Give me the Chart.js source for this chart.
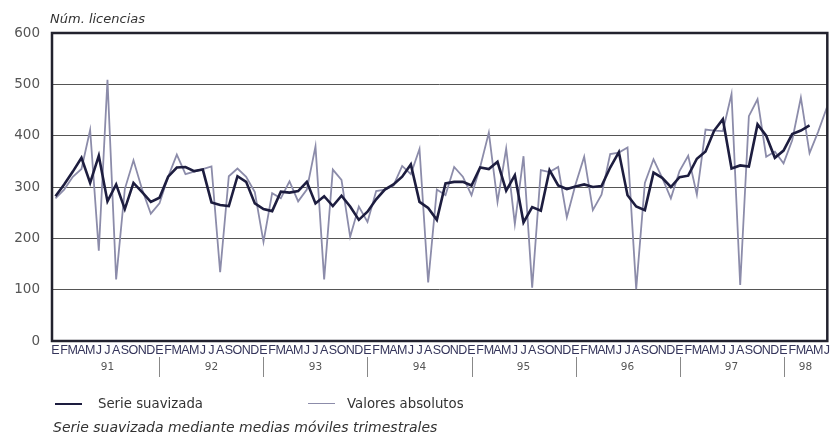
<!DOCTYPE html>
<html lang="es">
<head>
<meta charset="utf-8">
<title>Núm. licencias</title>
<script src="https://cdn.jsdelivr.net/npm/chart.js@4.4.1/dist/chart.umd.min.js"></script>
<style>
  body { margin: 0; background: #fff; }
  #wrap { position: relative; width: 832px; height: 443px; font-family: "DejaVu Sans", sans-serif; color: #2b2b3a; }
  #chart { position: absolute; left: 0; top: 0; }
  #yTitle { position: absolute; left: 50px; top: 11px; font-size: 13px; font-style: italic; color: #333; }
  #legend .line { position: absolute; width: 27px; }
  #legend .txt { position: absolute; font-size: 13.3px; color: #333; line-height: 16px; }
  #note { position: absolute; left: 53px; top: 419px; font-size: 14px; font-style: italic; color: #333; }
</style>
</head>
<body>
<div id="wrap">
  <canvas id="chart" width="832" height="443"></canvas>
  <div id="yTitle">Núm. licencias</div>
  <div id="legend"></div>
  <div id="note">Serie suavizada mediante medias móviles trimestrales</div>
</div>
<script>
const monthLetters = ['E', 'F', 'M', 'A', 'M', 'J', 'J', 'A', 'S', 'O', 'N', 'D'];
const years = ['91', '92', '93', '94', '95', '96', '97', '98'];
const yTicks = [0, 100, 200, 300, 400, 500, 600];

// enero 1991 - junio 1998, un valor por mes
const valoresAbsolutos = [
  278, 295, 320, 335, 411, 176, 509, 120, 296, 352, 295, 248,
  268, 320, 363, 325, 330, 335, 340, 134, 321, 336, 320, 290,
  193, 288, 278, 311, 272, 295, 379, 120, 334, 314, 203, 262,
  232, 292, 295, 303, 341, 325, 374, 114, 295, 284, 339, 320,
  284, 339, 406, 271, 375, 228, 360, 104, 333, 329, 339, 241,
  305, 359, 255, 285, 364, 367, 377, 101, 308, 354, 318, 278,
  331, 361, 285, 412, 410, 409, 481, 109, 438, 471, 359, 369,
  346, 391, 474, 366, 408, 455
];
const serieSuavizada = [
  282, 305, 330, 357, 308, 361, 272, 305, 257, 308, 290, 271,
  279, 320, 338, 339, 331, 334, 270, 265, 263, 321, 310, 268,
  257, 253, 291, 289, 292, 310, 268, 282, 263, 283, 262, 236,
  252, 276, 295, 305, 320, 344, 271, 259, 236, 307, 310, 310,
  303, 338, 335, 349, 293, 323, 231, 261, 254, 333, 303, 296,
  301, 305, 300, 302, 338, 368, 284, 262, 255, 328, 318, 300,
  319, 322, 355, 369, 410, 432, 336, 342, 340, 422, 400, 357,
  371, 403, 410, 420, null, null
];

const toPoints = arr => arr.map((v, i) => ({ x: i, y: v }));
const monthIdx = valoresAbsolutos.map((v, i) => i);

const yearAxis = {
  id: 'yearAxis',
  afterDraw(chart) {
    const { ctx, chartArea } = chart;
    const x = chart.scales.x;
    ctx.save();
    ctx.font = '10.5px "DejaVu Sans"';
    ctx.fillStyle = '#555';
    ctx.textAlign = 'center';
    ctx.textBaseline = 'middle';
    ctx.strokeStyle = '#888';
    ctx.lineWidth = 1;
    years.forEach((yr, k) => {
      const a = x.getPixelForValue(k * 12);
      const b = Math.min(x.getPixelForValue(k * 12 + 12), chartArea.right);
      if (k > 0) {
        ctx.beginPath();
        ctx.moveTo(Math.round(a) + 0.5, chartArea.bottom + 16);
        ctx.lineTo(Math.round(a) + 0.5, chartArea.bottom + 36);
        ctx.stroke();
      }
      ctx.fillText(yr, (a + b) / 2, chartArea.bottom + 26);
    });
    ctx.strokeStyle = '#22222e';
    ctx.lineWidth = 2.5;
    ctx.strokeRect(chartArea.left, chartArea.top, chartArea.width, chartArea.height);
    ctx.restore();
  }
};

const chart = new Chart(document.getElementById('chart'), {
  type: 'line',
  data: {
    datasets: [
      {
        label: 'Serie suavizada',
        data: toPoints(serieSuavizada),
        borderColor: '#1d1d3f',
        borderWidth: 2.6,
        pointRadius: 0,
        tension: 0,
        order: 0
      },
      {
        label: 'Valores absolutos',
        data: toPoints(valoresAbsolutos),
        borderColor: '#8c8caa',
        borderWidth: 1.8,
        pointRadius: 0,
        tension: 0,
        order: 1
      }
    ]
  },
  options: {
    responsive: false,
    animation: false,
    layout: { padding: { top: 33, right: 2, left: 0, bottom: 0 } },
    plugins: { legend: { display: false }, tooltip: { enabled: false } },
    scales: {
      x: {
        type: 'linear',
        min: -0.4,
        max: 89.05,
        afterBuildTicks: s => { s.ticks = monthIdx.map(v => ({ value: v })); },
        afterFit: s => { s.height = 102; },
        grid: { display: false, drawTicks: false },
        border: { display: false },
        ticks: {
          autoSkip: false,
          maxRotation: 0,
          padding: 2,
          color: '#34345a',
          font: { family: 'Liberation Sans', size: 12.5 },
          callback: v => monthLetters[v % 12]
        }
      },
      y: {
        min: 0,
        max: 600,
        afterBuildTicks: s => { s.ticks = yTicks.map(v => ({ value: v })); },
        afterFit: s => { s.width = 52; },
        grid: { color: '#555', lineWidth: 1, drawTicks: false },
        border: { display: false },
        ticks: {
          padding: 12,
          color: '#555',
          font: { family: 'DejaVu Sans', size: 13.5 }
        }
      }
    }
  },
  plugins: [yearAxis]
});

// leyenda a partir de los datasets
const legendPos = [{ line: 55, text: 98 }, { line: 308, text: 347 }];
const legend = document.getElementById('legend');
chart.data.datasets.forEach((ds, k) => {
  const ln = document.createElement('div');
  ln.className = 'line';
  ln.style.left = legendPos[k].line + 'px';
  ln.style.top = (404 - ds.borderWidth / 2) + 'px';
  ln.style.borderTop = ds.borderWidth + 'px solid ' + ds.borderColor;
  legend.appendChild(ln);
  const tx = document.createElement('div');
  tx.className = 'txt';
  tx.style.left = legendPos[k].text + 'px';
  tx.style.top = '396px';
  tx.textContent = ds.label;
  legend.appendChild(tx);
});
</script>
</body>
</html>
